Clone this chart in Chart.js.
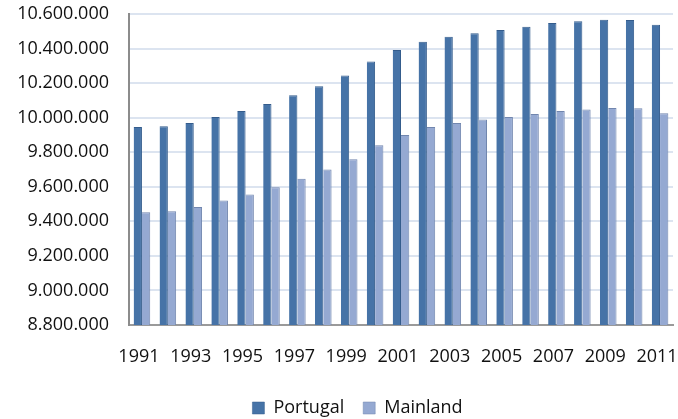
<!DOCTYPE html>
<html lang="en">
<head>
    <meta charset="UTF-8" />
    <title>Population</title>
    <script src="https://cdn.jsdelivr.net/npm/chart.js"></script>
    <style>
        html, body { margin: 0; padding: 0; background: #fff; }
        #wrap { width: 678px; height: 419px; }
    </style>
</head>
<body>
    <div id="wrap">
        <canvas id="popChart" width="678" height="419"></canvas>
    </div>

    <script>
        // data
        const years = ['1991', '1992', '1993', '1994', '1995', '1996', '1997', '1998', '1999', '2000',
            '2001', '2002', '2003', '2004', '2005', '2006', '2007', '2008', '2009', '2010', '2011'];
        const portugal = [9946000, 9950000, 9969000, 10004000, 10039000, 10079000, 10130000, 10182000,
            10244000, 10325000, 10391000, 10439000, 10468000, 10488000, 10507000, 10526000, 10548000,
            10558000, 10567000, 10565000, 10538000];
        const mainland = [9452000, 9458000, 9483000, 9520000, 9555000, 9597000, 9646000, 9700000,
            9760000, 9841000, 9899000, 9946000, 9969000, 9990000, 10004000, 10021000, 10039000,
            10047000, 10056000, 10054000, 10025000];
        const yMin = 8800000;
        const yMax = 10600000;
        const yStep = 200000;

        function dots(v) {
            return String(v).replace(/\B(?=(\d{3})+(?!\d))/g, '.');
        }

        const font = { family: "'Open Sans'", size: 18 };

        // the legend sits a bit right of the canvas centre in the original
        const legendShift = {
            id: 'legendShift',
            afterLayout(chart) {
                const lg = chart.legend;
                if (lg) { lg.left += 15; lg.right += 15; }
            }
        };

        const ctx = document.getElementById('popChart').getContext('2d');
        new Chart(ctx, {
            type: 'bar',
            data: {
                labels: years,
                datasets: [{
                    label: 'Portugal',
                    data: portugal,
                    backgroundColor: '#4673A7',
                    borderColor: '#345C8C',
                    borderWidth: { top: 1, right: 1, left: 0, bottom: 0 },
                    borderSkipped: 'bottom'
                }, {
                    label: 'Mainland',
                    data: mainland,
                    backgroundColor: '#95A9D2',
                    borderColor: '#7186AE',
                    borderWidth: { top: 1, right: 1, left: 0, bottom: 0 },
                    borderSkipped: 'bottom'
                }]
            },
            options: {
                responsive: false,
                animation: false,
                layout: { padding: { top: 14, right: 5, left: 12, bottom: -8 } },
                datasets: {
                    bar: { categoryPercentage: 0.64, barPercentage: 1.0 }
                },
                scales: {
                    x: {
                        grid: { display: false, drawTicks: false },
                        border: { display: true, color: '#9A9A9A', width: 2 },
                        ticks: {
                            autoSkip: false,
                            maxRotation: 0,
                            padding: 21,
                            labelOffset: -3,
                            color: '#111',
                            font: font,
                            callback: function (val, index) {
                                return index % 2 === 0 ? this.getLabelForValue(val) : '';
                            }
                        },
                        afterFit: function (scale) {
                            scale.height = 55;
                            scale.paddingLeft = 0;
                            scale.paddingRight = 0;
                        }
                    },
                    y: {
                        min: yMin,
                        max: yMax,
                        grid: { color: '#DCE4F0', lineWidth: 2, drawTicks: false },
                        border: { display: true, color: '#8C8C8C', width: 2 },
                        ticks: {
                            stepSize: yStep,
                            padding: 20,
                            color: '#111',
                            font: font,
                            callback: function (v) { return dots(v); }
                        },
                        afterFit: function (scale) {
                            scale.width = 117;
                            scale.paddingTop = 0;
                            scale.paddingBottom = 0;
                        }
                    }
                },
                plugins: {
                    legend: {
                        position: 'bottom',
                        labels: {
                            boxWidth: 12,
                            boxHeight: 12,
                            padding: 19,
                            color: '#111',
                            font: font
                        }
                    },
                    tooltip: { enabled: false }
                }
            },
            plugins: [legendShift]
        });
    </script>
</body>
</html>
